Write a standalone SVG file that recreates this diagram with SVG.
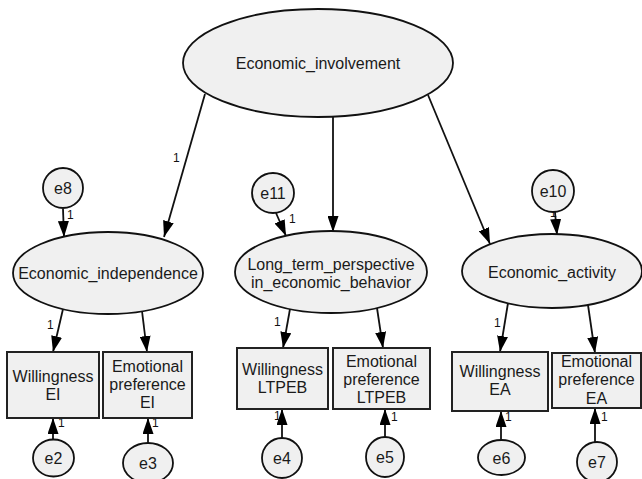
<svg xmlns="http://www.w3.org/2000/svg" width="642" height="479" viewBox="0 0 642 479">
<style>
.sh{fill:#f0f0f0;stroke:#111;stroke-width:1.8}
.bx{fill:#f0f0f0;stroke:#222;stroke-width:2}
.t{font-family:"Liberation Sans",Arial,sans-serif;font-size:16px;fill:#1a1a1a;text-anchor:middle}
.n{font-family:"Liberation Sans",Arial,sans-serif;font-size:12px;fill:#111}
.c{stroke:#111;stroke-width:1.8;fill:none;marker-end:url(#ah)}
</style>
<defs>
<marker id="ah" markerUnits="userSpaceOnUse" markerWidth="16" markerHeight="11" refX="16" refY="5.5" orient="auto">
<path d="M0,0 L16,5.5 L0,11 z" fill="#000"/>
</marker>
</defs>
<rect width="642" height="479" fill="#fff"/>
<g id="connectors">
<line class="c" x1="205" y1="94" x2="164" y2="237"/>
<line class="c" x1="333" y1="117" x2="333" y2="232"/>
<line class="c" x1="428" y1="95" x2="490" y2="244"/>
<line class="c" x1="63" y1="209" x2="64" y2="237"/>
<line class="c" x1="276" y1="213" x2="286" y2="236"/>
<line class="c" x1="555" y1="212" x2="557" y2="235"/>
<line class="c" x1="63" y1="309" x2="53" y2="352"/>
<line class="c" x1="142" y1="311" x2="147" y2="352"/>
<line class="c" x1="290" y1="309" x2="283" y2="348"/>
<line class="c" x1="377" y1="308" x2="383" y2="348"/>
<line class="c" x1="508" y1="303" x2="500" y2="352"/>
<line class="c" x1="588" y1="305" x2="595" y2="353"/>
<line class="c" x1="53" y1="440" x2="53" y2="418"/>
<line class="c" x1="148" y1="443" x2="148" y2="418"/>
<line class="c" x1="282" y1="438" x2="282" y2="409"/>
<line class="c" x1="385" y1="437" x2="385" y2="409"/>
<line class="c" x1="501" y1="440" x2="501" y2="411"/>
<line class="c" x1="595" y1="442" x2="595" y2="408"/>
<text class="n" x="173" y="162">1</text>
<text class="n" x="67" y="219">1</text>
<text class="n" x="289" y="223">1</text>
<text class="n" x="550" y="217">1</text>
<text class="n" x="47" y="329">1</text>
<text class="n" x="274" y="326">1</text>
<text class="n" x="494" y="327">1</text>
<text class="n" x="58" y="427">1</text>
<text class="n" x="152" y="427">1</text>
<text class="n" x="274" y="420">1</text>
<text class="n" x="391" y="421">1</text>
<text class="n" x="505" y="421">1</text>
<text class="n" x="601" y="421">1</text>
</g>
<g id="Economic_involvement"><ellipse class="sh" cx="318" cy="63" rx="135" ry="54"/><text class="t" x="318" y="69">Economic_involvement</text></g>
<g id="Economic_independence"><ellipse class="sh" cx="108" cy="273" rx="95" ry="41"/><text class="t" x="108" y="279">Economic_independence</text></g>
<g id="Long_term"><ellipse class="sh" cx="331" cy="272" rx="96" ry="41"/><text class="t" x="331" y="270">Long_term_perspective</text><text class="t" x="331" y="288">in_economic_behavior</text></g>
<g id="Economic_activity"><ellipse class="sh" cx="552" cy="271" rx="90" ry="37"/><text class="t" x="552" y="278">Economic_activity</text></g>
<g id="e8"><ellipse class="sh" cx="63" cy="188" rx="20" ry="20"/><text class="t" x="63" y="194">e8</text></g>
<g id="e11"><ellipse class="sh" cx="273" cy="193" rx="21" ry="20"/><text class="t" x="273" y="199">e11</text></g>
<g id="e10"><ellipse class="sh" cx="553" cy="191" rx="21" ry="21"/><text class="t" x="553" y="197">e10</text></g>
<g id="Willingness_EI"><rect class="bx" x="7" y="352" width="92" height="66"/><text class="t" x="53" y="382">Willingness</text><text class="t" x="53" y="400">EI</text></g>
<g id="Emotional_EI"><rect class="bx" x="103" y="352" width="89" height="66"/><text class="t" x="147.5" y="372">Emotional</text><text class="t" x="147.5" y="390">preference</text><text class="t" x="147.5" y="408">EI</text></g>
<g id="Willingness_LTPEB"><rect class="bx" x="237" y="348" width="91" height="61"/><text class="t" x="282.5" y="375">Willingness</text><text class="t" x="282.5" y="393">LTPEB</text></g>
<g id="Emotional_LTPEB"><rect class="bx" x="333" y="348" width="97" height="61"/><text class="t" x="381.5" y="367">Emotional</text><text class="t" x="381.5" y="385">preference</text><text class="t" x="381.5" y="403">LTPEB</text></g>
<g id="Willingness_EA"><rect class="bx" x="452" y="352" width="96" height="59"/><text class="t" x="500" y="377">Willingness</text><text class="t" x="500" y="395">EA</text></g>
<g id="Emotional_EA"><rect class="bx" x="552" y="353" width="89" height="55"/><text class="t" x="596.5" y="367">Emotional</text><text class="t" x="596.5" y="385">preference</text><text class="t" x="596.5" y="404">EA</text></g>
<g id="e2"><ellipse class="sh" cx="53.5" cy="458" rx="20.5" ry="18.5"/><text class="t" x="53.5" y="464">e2</text></g>
<g id="e3"><ellipse class="sh" cx="148" cy="463" rx="25" ry="20"/><text class="t" x="148" y="469">e3</text></g>
<g id="e4"><ellipse class="sh" cx="282" cy="458" rx="20" ry="20"/><text class="t" x="282" y="464">e4</text></g>
<g id="e5"><ellipse class="sh" cx="385" cy="457" rx="19" ry="20"/><text class="t" x="385" y="463">e5</text></g>
<g id="e6"><ellipse class="sh" cx="501.5" cy="457.5" rx="23.5" ry="17.5"/><text class="t" x="501.5" y="463.5">e6</text></g>
<g id="e7"><ellipse class="sh" cx="597" cy="462" rx="20" ry="20"/><text class="t" x="597" y="468">e7</text></g>
</svg>
